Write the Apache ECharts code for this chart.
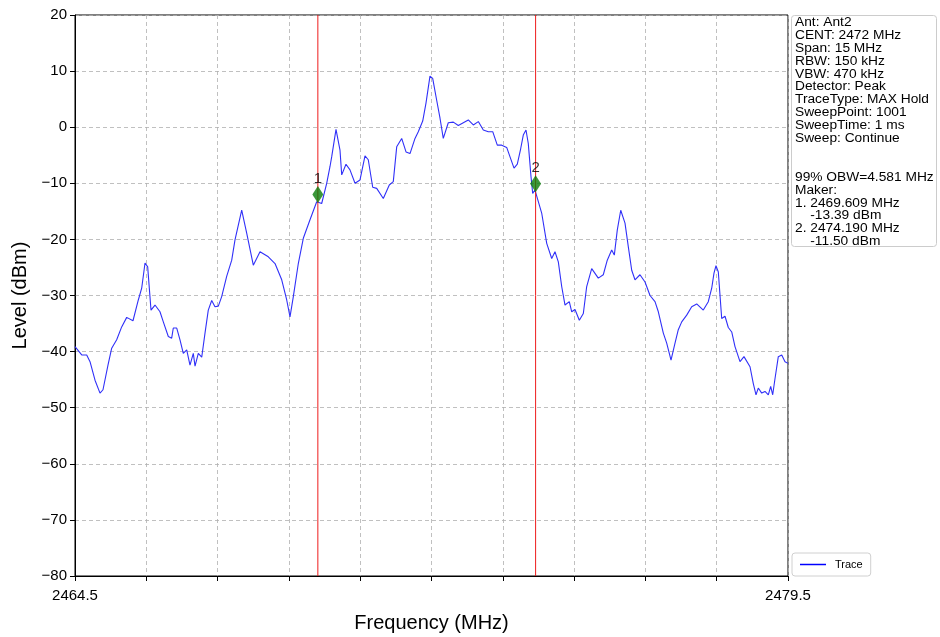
<!DOCTYPE html>
<html>
<head>
<meta charset="utf-8">
<script src="https://cdn.jsdelivr.net/npm/echarts@6/dist/echarts.min.js"></script>
<style>html,body{margin:0;padding:0;background:#fff;overflow:hidden;}#c{width:940px;height:637px;}</style>
</head>
<body>
<div id="c"></div>
<script>
var freqs = [2464.500,2464.641,2464.746,2464.816,2464.921,2465.026,2465.089,2465.194,2465.272,2465.377,2465.482,2465.588,2465.720,2465.832,2465.903,2465.973,2466.029,2466.099,2466.183,2466.288,2466.358,2466.463,2466.534,2466.568,2466.640,2466.709,2466.778,2466.850,2466.919,2466.989,2467.025,2467.094,2467.166,2467.235,2467.304,2467.376,2467.445,2467.515,2467.586,2467.691,2467.797,2467.866,2468.007,2468.112,2468.251,2468.392,2468.567,2468.708,2468.849,2468.954,2469.023,2469.093,2469.198,2469.303,2469.444,2469.585,2469.690,2469.795,2469.865,2469.900,2469.991,2470.075,2470.111,2470.201,2470.285,2470.391,2470.496,2470.601,2470.670,2470.763,2470.847,2470.986,2471.112,2471.196,2471.268,2471.373,2471.464,2471.548,2471.653,2471.722,2471.815,2471.884,2471.968,2472.025,2472.109,2472.179,2472.248,2472.353,2472.459,2472.564,2472.669,2472.774,2472.880,2472.985,2473.090,2473.195,2473.288,2473.384,2473.477,2473.582,2473.652,2473.736,2473.805,2473.877,2473.931,2473.988,2474.036,2474.093,2474.129,2474.177,2474.318,2474.424,2474.529,2474.598,2474.668,2474.739,2474.809,2474.899,2474.950,2475.019,2475.110,2475.194,2475.265,2475.370,2475.509,2475.614,2475.698,2475.791,2475.846,2475.909,2475.981,2476.071,2476.140,2476.212,2476.281,2476.386,2476.492,2476.597,2476.702,2476.772,2476.877,2476.948,2477.039,2477.123,2477.192,2477.264,2477.369,2477.474,2477.579,2477.718,2477.823,2477.895,2477.943,2477.985,2478.034,2478.105,2478.175,2478.244,2478.316,2478.385,2478.490,2478.574,2478.701,2478.770,2478.827,2478.875,2478.947,2479.016,2479.086,2479.136,2479.178,2479.227,2479.296,2479.368,2479.437,2479.500];
var levels = [-39.1,-40.6,-40.6,-41.8,-45.1,-47.4,-46.8,-42.4,-39.4,-37.9,-35.6,-33.9,-34.5,-30.8,-28.7,-24.2,-24.9,-32.6,-31.7,-32.9,-34.7,-37.3,-37.6,-35.8,-35.8,-37.9,-40.3,-39.7,-42.4,-40.3,-42.6,-40.3,-41.0,-36.7,-32.6,-30.9,-32.0,-31.9,-30.2,-26.6,-23.7,-20.1,-14.8,-18.9,-24.6,-22.2,-23.1,-24.3,-27.2,-30.8,-33.8,-30.2,-24.3,-19.8,-16.5,-13.3,-13.6,-10.0,-7.0,-5.3,-0.4,-4.1,-8.5,-6.6,-7.6,-10.0,-9.4,-5.1,-5.8,-10.7,-10.9,-12.7,-10.3,-9.7,-3.5,-2.0,-4.4,-4.7,-2.0,-0.8,1.1,4.3,9.1,8.7,4.8,1.6,-2.0,0.8,0.9,0.3,0.8,1.3,0.4,1.0,-0.5,-0.8,-0.8,-3.2,-3.2,-3.6,-5.3,-7.3,-6.6,-3.8,-1.4,-0.5,-2.9,-8.8,-11.8,-11.2,-15.3,-20.7,-23.4,-22.2,-24.0,-28.4,-31.7,-31.1,-32.9,-32.5,-34.4,-33.2,-28.4,-25.2,-26.9,-26.3,-23.7,-21.9,-22.8,-18.3,-14.8,-17.1,-21.3,-25.5,-27.2,-26.3,-27.6,-30.0,-31.1,-32.9,-36.7,-38.5,-41.5,-38.5,-36.1,-34.7,-33.5,-32.0,-31.5,-32.6,-31.1,-28.7,-26.0,-24.7,-25.8,-34.1,-33.7,-35.7,-36.5,-39.1,-41.8,-40.9,-42.7,-45.7,-47.7,-46.5,-47.4,-47.1,-47.7,-46.2,-47.7,-44.8,-40.9,-40.6,-41.8,-42.1];
var markerNames = ['1','2'];
var markerFreqs = [2469.609, 2474.190];
var markerShown = [-12.0, -10.1];
var markerLevels = ['-13.39', '-11.50'];
var yMin = -80, yMax = 20;
var infoLines = ['Ant: Ant2','CENT: 2472 MHz','Span: 15 MHz','RBW: 150 kHz','VBW: 470 kHz','Detector: Peak','TraceType: MAX Hold','SweepPoint: 1001','SweepTime: 1 ms','Sweep: Continue','','','99% OBW=4.581 MHz','Maker:'];
for (var i = 0; i < markerFreqs.length; i++) {
  infoLines.push((i+1) + '. ' + markerFreqs[i].toFixed(3) + ' MHz');
  infoLines.push('    ' + markerLevels[i] + ' dBm');
}

var trace = freqs.map(function(f, i){ return [f, levels[i]]; });
var mk = markerFreqs.map(function(f, i){ return {value:[f, markerShown[i]], name: markerNames[i]}; });

var FONT = 'Liberation Sans, Arial, sans-serif';
var RED = '#ee1c1c';
var series = [
  {
    name: 'Trace', type: 'line', data: trace, showSymbol: false, symbol: 'none',
    lineStyle: {color: '#3030f8', width: 1.1}, itemStyle: {color: '#0000ff'}, z: 3,
    emphasis: {disabled: true}
  }
];
markerFreqs.forEach(function(f, i){
  series.push({
    name: 'mline' + i, type: 'line', data: [[f, yMin], [f, yMax]], showSymbol: false, symbol: 'none',
    lineStyle: {color: RED, width: 1}, itemStyle: {color: RED}, z: 10, silent: true,
    emphasis: {disabled: true}
  });
});
series.push({
  name: 'Markers', type: 'scatter', data: mk, symbol: 'diamond', symbolSize: [11, 17],
  itemStyle: {color: '#0a7d0a'}, z: 11, silent: true, emphasis: {disabled: true},
  label: {show: true, position: 'top', distance: 0, formatter: function(p){ return p.name; },
    fontFamily: FONT, fontSize: 15, color: '#000'}
});

var chart = echarts.init(document.getElementById('c'), null, {renderer:'canvas'});
chart.setOption({
  backgroundColor: '#fff',
  animation: false,
  tooltip: {show: false},
  grid: {left: 75, right: 152, top: 15, bottom: 61, outerBoundsMode: 'none', containLabel: false,
    show: true, borderColor: '#000', borderWidth: 1, backgroundColor: 'transparent'},
  xAxis: {
    type: 'value', min: 2464.5, max: 2479.5, interval: 1.5,
    name: 'Frequency (MHz)', nameLocation: 'middle', nameGap: 37,
    nameTextStyle: {fontFamily: FONT, fontSize: 20, color: '#000'},
    axisLine: {show: true, onZero: false, lineStyle: {color: '#000', width: 1}},
    axisTick: {show: true, length: 5, lineStyle: {color: '#000'}},
    axisLabel: {fontFamily: FONT, fontSize: 15, color: '#000', margin: 12,
      showMinLabel: true, showMaxLabel: true,
      formatter: function(v){ if (Math.abs(v-2464.5)<1e-6) return '2464.5'; if (Math.abs(v-2479.5)<1e-6) return '2479.5'; return ''; }},
    splitLine: {show: true, lineStyle: {color: '#b0b0b0', type: [4,3], width: 0.8}}
  },
  yAxis: {
    type: 'value', min: yMin, max: yMax, interval: 10,
    name: 'Level (dBm)', nameLocation: 'middle', nameGap: 43,
    nameTextStyle: {fontFamily: FONT, fontSize: 20, color: '#000'},
    axisLine: {show: true, onZero: false, lineStyle: {color: '#000', width: 1}},
    axisTick: {show: true, length: 5, lineStyle: {color: '#000'}},
    axisLabel: {fontFamily: FONT, fontSize: 15, color: '#000', margin: 8,
      formatter: function(v){ return v < 0 ? '\u2212' + Math.abs(v) : String(v); }},
    splitLine: {show: true, lineStyle: {color: '#b0b0b0', type: [4,3], width: 0.8}}
  },
  legend: {
    data: [{name: 'Trace', icon: 'rect'}],
    left: 792, top: 553, orient: 'vertical', selectedMode: false,
    itemWidth: 26, itemHeight: 1.5, itemGap: 4,
    padding: [6, 8, 6, 8],
    borderColor: '#d0d0d0', borderWidth: 1, borderRadius: 3, backgroundColor: '#fff',
    textStyle: {fontFamily: FONT, fontSize: 11, color: '#000', padding: [0,0,0,4]}
  },
  series: series,
  graphic: [
    {type: 'rect', left: 791, top: 15, shape: {width: 145, height: 231, r: 3},
      style: {fill: '#fff', stroke: '#cccccc', lineWidth: 1}},
    {type: 'text', x: 795, y: 16, scaleX: 1.1,
      style: {text: infoLines.join('\n'), font: '12.5px ' + FONT, fill: '#000', lineHeight: 12.9}}
  ]
});
</script>
</body>
</html>
